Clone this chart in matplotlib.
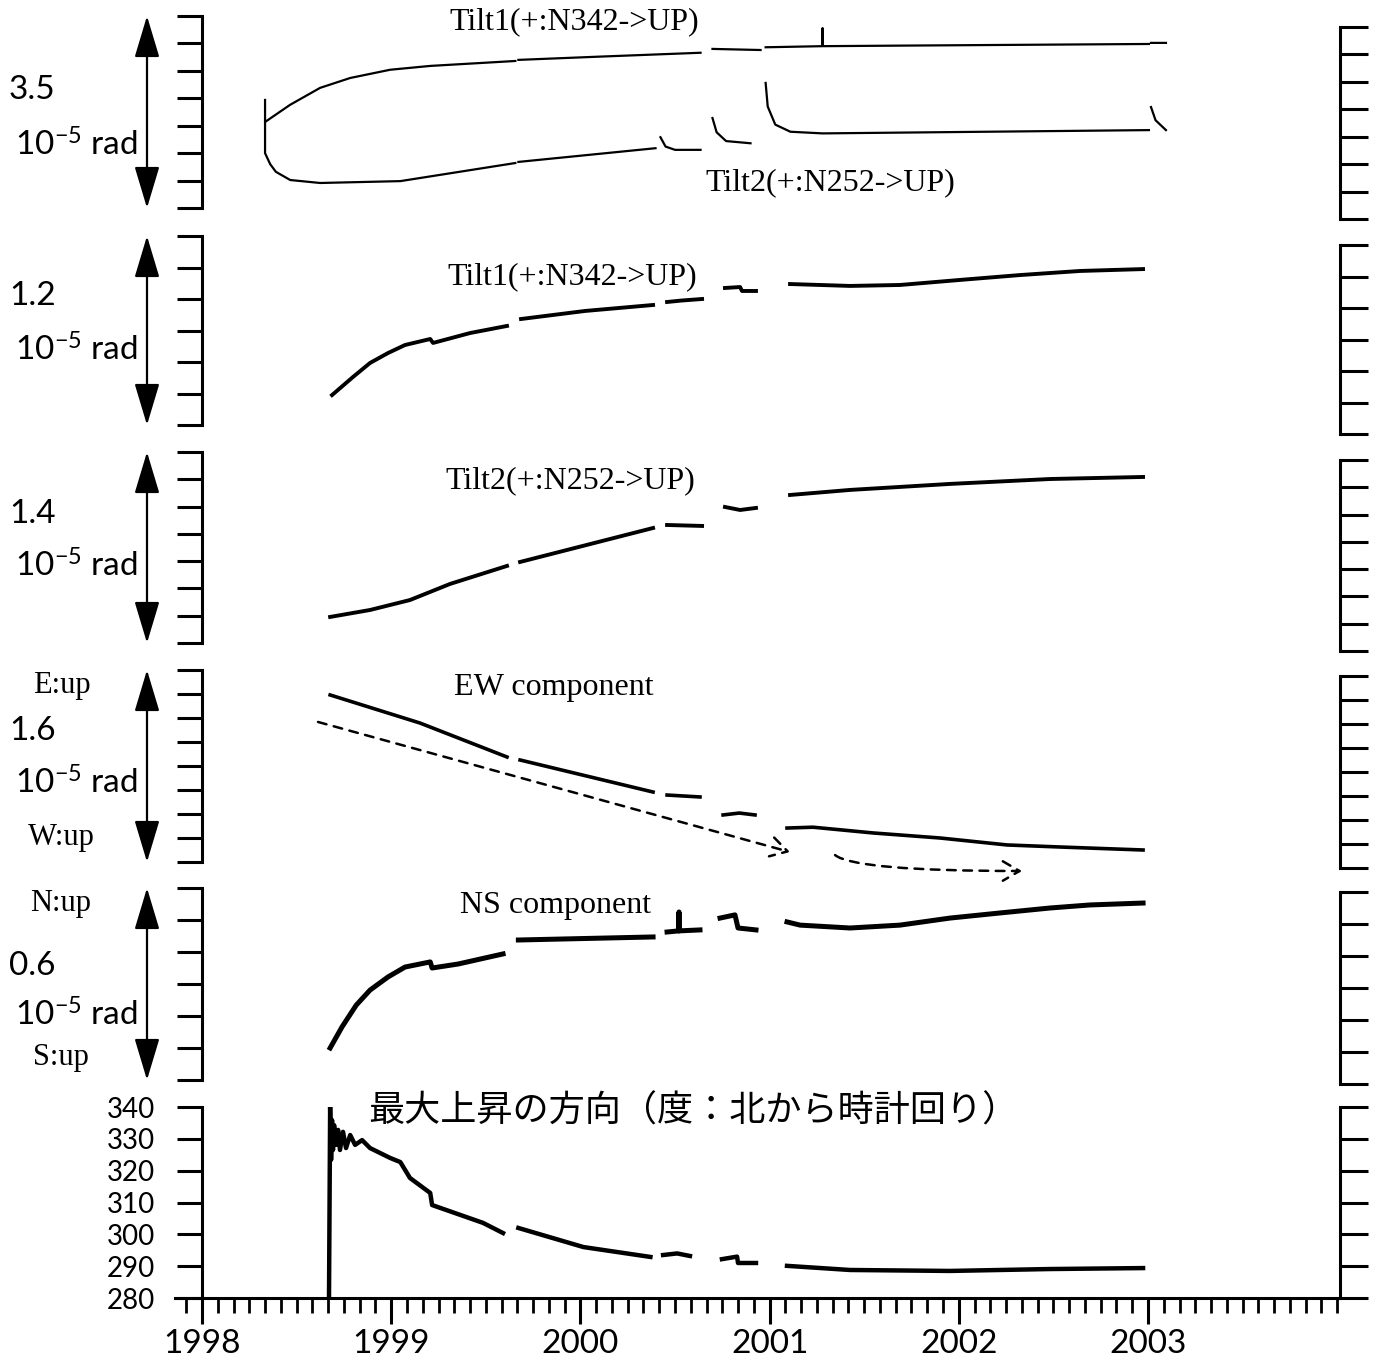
import numpy as np
import matplotlib
matplotlib.use("Agg")
import matplotlib.pyplot as plt
from matplotlib.ticker import MultipleLocator

plt.rcParams['font.family'] = ['Lato', 'Noto Sans CJK JP', 'DejaVu Sans']
plt.rcParams['mathtext.default'] = 'regular'

nan = float('nan')

# raw tilt records (10^-5 rad), NaN marks a gap in the record
raw_t1_year = [1998.333, 1998.333, 1998.465, 1998.624, 1998.783, 1998.994, 1999.206, 1999.656, nan,
               1999.672, 2000.106, 2000.635, nan,
               2000.698, 2000.952, nan,
               2000.979, 2001.278, 2001.280, 2001.282, 2001.689, 2003.005, nan,
               2003.016, 2003.095]
raw_t1_val = [1.97, 1.568, 1.88, 2.19, 2.37, 2.52, 2.59, 2.68, nan,
              2.70, 2.76, 2.83, nan,
              2.90, 2.88, nan,
              2.93, 2.95, 3.28, 2.95, 2.96, 2.99, nan,
              3.01, 3.01]

raw_t2_year = [1998.333, 1998.333, 1998.36, 1998.39, 1998.466, 1998.624, 1999.048, 1999.656, nan,
               1999.672, 2000.397, nan,
               2000.423, 2000.45, 2000.50, 2000.635, nan,
               2000.698, 2000.72, 2000.77, 2000.899, nan,
               2000.979, 2000.99, 2001.03, 2001.11, 2001.28, 2003.005, nan,
               2003.016, 2003.04, 2003.095]
raw_t2_val = [1.568, 1.0, 0.80, 0.66, 0.51, 0.456, 0.49, 0.82, nan,
              0.84, 1.09, nan,
              1.29, 1.12, 1.06, 1.06, nan,
              1.64, 1.38, 1.22, 1.18, nan,
              2.28, 1.85, 1.52, 1.39, 1.36, 1.42, nan,
              1.84, 1.60, 1.42]

# corrected tilt 1
t1_year = [1998.687, 1998.798, 1998.888, 1998.983, 1999.073, 1999.206, 1999.221, 1999.417, 1999.612, nan,
           1999.686, 2000.024, 2000.384, nan,
           2000.458, 2000.532, 2000.643, nan,
           2000.764, 2000.844, 2000.854, 2000.928, nan,
           2001.108, 2001.425, 2001.689, 2002.006, 2002.323, 2002.641, 2002.974]
t1_val = [0.19, 0.305, 0.394, 0.457, 0.508, 0.546, 0.521, 0.584, 0.629, nan,
          0.673, 0.724, 0.762, nan,
          0.781, 0.79, 0.80, nan,
          0.870, 0.876, 0.851, 0.851, nan,
          0.895, 0.883, 0.889, 0.921, 0.952, 0.978, 0.99]

# corrected tilt 2
t2_year = [1998.677, 1998.888, 1999.099, 1999.311, 1999.612, nan,
           1999.681, 2000.384, nan,
           2000.458, 2000.643, nan,
           2000.764, 2000.844, 2000.928, nan,
           2001.108, 2001.425, 2001.953, 2002.482, 2002.974]
t2_val = [0.191, 0.242, 0.315, 0.433, 0.565, nan,
          0.594, 0.843, nan,
          0.865, 0.858, nan,
          0.997, 0.975, 0.99, nan,
          1.085, 1.122, 1.166, 1.202, 1.217]

# EW component
ew_year = [1998.677, 1999.152, 1999.612, nan,
           1999.681, 2000.384, nan,
           2000.458, 2000.632, nan,
           2000.754, 2000.84, 2000.923, nan,
           2001.092, 2001.229, 2001.547, 2001.901, 2002.255, 2002.535, 2002.974]
ew_val = [1.392, 1.158, 0.875, nan,
          0.85, 0.583, nan,
          0.558, 0.542, nan,
          0.392, 0.408, 0.392, nan,
          0.283, 0.29, 0.242, 0.20, 0.142, 0.125, 0.10]

# NS component
ns_year = [1998.677, 1998.740, 1998.815, 1998.888, 1998.983, 1999.073, 1999.206, 1999.216, 1999.354, 1999.591, nan,
           1999.672, 2000.384, nan,
           2000.458, 2000.520, 2000.521, 2000.522, 2000.632, nan,
           2000.738, 2000.817, 2000.833, 2000.928, nan,
           2001.092, 2001.161, 2001.425, 2001.689, 2001.953, 2002.218, 2002.482, 2002.693, 2002.974]
ns_val = [0.10, 0.166, 0.234, 0.281, 0.322, 0.353, 0.369, 0.35, 0.3625, 0.394, nan,
          0.4375, 0.447, nan,
          0.4625, 0.466, 0.525, 0.466, 0.469, nan,
          0.506, 0.516, 0.475, 0.469, nan,
          0.494, 0.484, 0.475, 0.484, 0.506, 0.522, 0.5375, 0.547, 0.553]

# direction of maximum uplift (deg, clockwise from north)
dir_year = [1998.671, 1998.677, 1998.682, 1998.687, 1998.692, 1998.698, 1998.708, 1998.719, 1998.729,
            1998.745, 1998.761, 1998.783, 1998.809, 1998.846, 1998.888, 1998.994, 1999.048, 1999.099,
            1999.206, 1999.216, 1999.485, 1999.591, nan,
            1999.672, 2000.016, 2000.370, nan,
            2000.437, 2000.511, 2000.579, nan,
            2000.748, 2000.828, 2000.833, 2000.928, nan,
            2001.092, 2001.425, 2001.953, 2002.482, 2002.974]
dir_val = [280, 340, 323.4, 335.9, 326.5, 334.3, 328.1, 332.8, 326.5,
           332.2, 327.1, 331.2, 328.1, 329.6, 327.1, 324.0, 322.7, 317.7,
           313.0, 309.2, 303.6, 300.4, nan,
           302.0, 296.0, 292.9, nan,
           293.5, 294.0, 293.2, nan,
           292.2, 293.0, 291.0, 291.0, nan,
           290.1, 288.8, 288.5, 289.1, 289.4]

# trend arrows drawn over the EW panel: (start year, start value, end year, end value)
ew_trend1 = (1998.613, 1.167, 2001.108, 0.083)
ew_trend2 = (2001.346, 0.058, 2002.334, -0.075)

years = [1998, 1999, 2000, 2001, 2002, 2003]
dir_ticks = [280, 290, 300, 310, 320, 330, 340]

W, H = 1375, 1360
X0, X1 = 175, 1340
XLIM = (1997.857, 2004.015)
SERIF = 'Liberation Serif'

fig = plt.figure(figsize=(W / 100, H / 100), dpi=100)


def fx(x):
    return x / W


def fy(y):
    return 1 - y / H


def panel(top, bot, ylim, nticks, ruler_shift):
    ax = fig.add_axes([fx(X0), fy(bot), (X1 - X0) / W, (bot - top) / H])
    ax.set_xlim(*XLIM)
    ax.set_ylim(*ylim)
    ax.set_yticks(np.linspace(ylim[0], ylim[1], nticks))
    for s in ('top', 'right', 'bottom'):
        ax.spines[s].set_visible(False)
    ax.spines['left'].set_position(('data', 1998))
    ax.spines['left'].set_linewidth(2.2)
    ax.tick_params(axis='y', direction='out', length=18, width=2.2, labelleft=False)
    ax.tick_params(axis='x', which='both', bottom=False, labelbottom=False)
    ax.patch.set_visible(False)

    # scale bracket on the right edge
    r = fig.add_axes([fx(X1), fy(bot + ruler_shift), 0.03, (bot - top) / H])
    r.set_ylim(*ylim)
    r.set_yticks(np.linspace(ylim[0], ylim[1], nticks))
    r.set_xticks([])
    for s in ('top', 'right', 'bottom'):
        r.spines[s].set_visible(False)
    r.spines['left'].set_linewidth(2.2)
    r.tick_params(axis='y', direction='in', length=20, width=2.2, labelleft=False)
    r.patch.set_visible(False)
    return ax


def range_arrow(ax):
    ax.annotate('', xy=((147 - X0) / (X1 - X0), 1.0), xytext=((147 - X0) / (X1 - X0), 0.0),
                xycoords='axes fraction', annotation_clip=False,
                arrowprops=dict(arrowstyle='<|-|>,head_length=1.0,head_width=0.3',
                                mutation_scale=26, lw=1.6, color='k',
                                shrinkA=0, shrinkB=0))


def left_label(value, y_num, y_rad):
    fig.text(fx(9), fy(y_num), value, fontsize=24, ha='left', va='center')
    fig.text(fx(137), fy(y_rad), '10$^{-5}$ rad', fontsize=24, ha='right', va='center')


def serif_text(x, y, s, ha='center', size=23):
    fig.text(fx(x), fy(y), s, fontsize=size, family=SERIF, ha=ha, va='center')


ax1 = panel(16, 208, (0, 3.5), 8, 11)
ax2 = panel(236, 425, (0, 1.2), 7, 9)
ax3 = panel(452, 643, (0, 1.4), 8, 8)
ax4 = panel(670, 862, (0, 1.6), 9, 6)
ax5 = panel(888, 1080, (0, 0.6), 7, 4)
ax6 = panel(1107, 1298, (280, 340), 7, 0)

ax1.plot(raw_t1_year, raw_t1_val, color='k', lw=1.6)
ax1.plot(raw_t2_year, raw_t2_val, color='k', lw=1.6)
ax2.plot(t1_year, t1_val, color='k', lw=2.8)
ax3.plot(t2_year, t2_val, color='k', lw=2.8)
ax4.plot(ew_year, ew_val, color='k', lw=2.6)
ax5.plot(ns_year, ns_val, color='k', lw=3.6)
ax6.plot(dir_year, dir_val, color='k', lw=3.2)

trend_styles = ['arc3,rad=0', 'angle3,angleA=-40,angleB=0']
for (x0, y0, x1, y1), conn in zip([ew_trend1, ew_trend2], trend_styles):
    ax4.annotate('', xy=(x1, y1), xytext=(x0, y0), annotation_clip=False,
                 arrowprops=dict(arrowstyle='->,head_length=0.6,head_width=0.35',
                                 ls=(0, (3.5, 3)), lw=1.8, color='k', mutation_scale=20,
                                 shrinkA=0, shrinkB=0, connectionstyle=conn))

for ax in (ax1, ax2, ax3, ax4, ax5):
    range_arrow(ax)

# bottom time axis
ax6.spines['bottom'].set_visible(True)
ax6.spines['bottom'].set_linewidth(2.2)
ax6.set_xticks(years)
ax6.set_xticklabels([str(y) for y in years])
ax6.xaxis.set_minor_locator(MultipleLocator(1 / 12))
ax6.tick_params(axis='x', which='major', bottom=True, labelbottom=True, direction='out',
                length=19, width=2.2, labelsize=24, pad=3)
ax6.tick_params(axis='x', which='minor', bottom=True, direction='out', length=11, width=2.0)
ax6.tick_params(axis='y', labelleft=True, labelsize=20, pad=16)
ax6.set_yticklabels([str(v) for v in dir_ticks])

# panel captions
serif_text(574, 22, 'Tilt1(+:N342->UP)')
serif_text(830, 183, 'Tilt2(+:N252->UP)')
serif_text(572, 277, 'Tilt1(+:N342->UP)')
serif_text(570, 481, 'Tilt2(+:N252->UP)')
serif_text(554, 688, 'EW component')
serif_text(556, 906, 'NS component')
fig.text(fx(693), fy(1112), '最大上昇の方向（度：北から時計回り）', fontsize=26,
         family=['Noto Sans CJK JP', 'DejaVu Sans'], ha='center', va='center')

# scale labels on the left
left_label('3.5', 90, 145)
left_label('1.2', 296, 350)
left_label('1.4', 514, 566)
left_label('1.6', 731, 783)
left_label('0.6', 966, 1015)
serif_text(33, 686, 'E:up', ha='left', size=22)
serif_text(28, 838, 'W:up', ha='left', size=22)
serif_text(30, 904, 'N:up', ha='left', size=22)
serif_text(33, 1057, 'S:up', ha='left', size=22)

fig.savefig('out.png', dpi=100)
